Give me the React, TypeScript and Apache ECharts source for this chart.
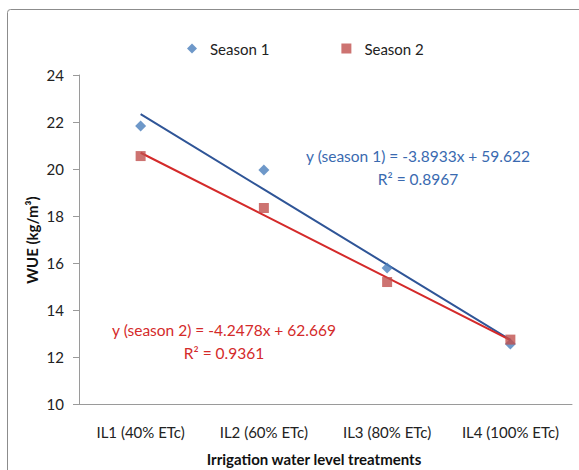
import React, { useEffect, useRef } from "react";
import * as echarts from "echarts";

const categories = ["IL1 (40% ETc)", "IL2 (60% ETc)", "IL3 (80% ETc)", "IL4 (100% ETc)"];
const season1 = [21.83, 19.96, 15.79, 12.55];
const season2 = [20.55, 18.34, 15.19, 12.74];
const yTicks = { min: 10, max: 24, interval: 2 };
const eq1 = ["y (season 1) = -3.8933x + 59.622", "R² = 0.8967"];
const eq2 = ["y (season 2) = -4.2478x + 62.669", "R² = 0.9361"];

function fit(vals: number[]): number[] {
  const n = vals.length;
  const xs = vals.map((_, i) => i + 1);
  const mx = xs.reduce((a, b) => a + b, 0) / n;
  const my = vals.reduce((a, b) => a + b, 0) / n;
  let sxy = 0, sxx = 0;
  for (let i = 0; i < n; i++) {
    sxy += (xs[i] - mx) * (vals[i] - my);
    sxx += (xs[i] - mx) * (xs[i] - mx);
  }
  const b = sxy / sxx;
  const a = my - b * mx;
  return xs.map((x) => a + b * x);
}

const FONT = "Lato, 'Open Sans', sans-serif";

export default function App() {
  const ref = useRef<HTMLDivElement>(null);
  useEffect(() => {
    if (!ref.current) return;
    const chart = echarts.init(ref.current, null, { renderer: "svg" });
    chart.setOption({
      animation: false,
      backgroundColor: "#ffffff",
      textStyle: { fontFamily: FONT },
      grid: { left: 79, right: 7, top: 75, bottom: 66 },
      legend: {
        left: 182,
        top: 36,
        itemWidth: 10,
        itemHeight: 10,
        itemGap: 72,
        textStyle: { fontSize: 15, color: "#222", fontFamily: FONT, padding: [0, 0, 0, 8] },
        data: [
          { name: "Season 1", icon: "diamond" },
          { name: "Season 2", icon: "rect" },
        ],
      },
      xAxis: {
        type: "category",
        data: categories,
        boundaryGap: true,
        axisLine: { lineStyle: { color: "#9a9a9a", width: 1 } },
        axisTick: { alignWithLabel: true, length: 6, lineStyle: { color: "#9a9a9a" } },
        axisLabel: { color: "#222", fontSize: 15, margin: 20, interval: 0, hideOverlap: false, fontFamily: FONT },
      },
      yAxis: {
        type: "value",
        min: yTicks.min,
        max: yTicks.max,
        interval: yTicks.interval,
        splitLine: { show: false },
        axisLine: { show: true, lineStyle: { color: "#9a9a9a", width: 1 } },
        axisTick: { show: true, length: 6, lineStyle: { color: "#9a9a9a" } },
        axisLabel: { color: "#222", fontSize: 15, margin: 15, fontFamily: FONT },
      },
      series: [
        {
          name: "trend1",
          type: "line",
          data: fit(season1),
          symbol: "none",
          lineStyle: { color: "#2f5597", width: 2 },
          z: 2,
        },
        {
          name: "trend2",
          type: "line",
          data: fit(season2),
          symbol: "none",
          lineStyle: { color: "#d42a2a", width: 2 },
          z: 2,
        },
        {
          name: "Season 1",
          type: "scatter",
          data: season1,
          symbol: "diamond",
          symbolSize: 11,
          itemStyle: { color: "#4a7ebb" },
          z: 3,
        },
        {
          name: "Season 2",
          type: "scatter",
          data: season2,
          symbol: "rect",
          symbolSize: 10,
          itemStyle: { color: "#c0504d" },
          z: 4,
        },
      ],
      graphic: [
        {
          type: "rect",
          shape: { x: 7.5, y: 9.5, width: 600, height: 500, r: 3 },
          style: { fill: "none", stroke: "#8c8c8c", lineWidth: 1 },
          silent: true,
        },
        {
          type: "text",
          x: 32,
          y: 240,
          rotation: Math.PI / 2,
          style: {
            text: "WUE (kg/m³)",
            fontSize: 15,
            fontWeight: "bold",
            fill: "#111",
            fontFamily: FONT,
            align: "center",
            verticalAlign: "middle",
          },
        },
        {
          type: "text",
          x: 314,
          y: 459,
          style: {
            text: "Irrigation water level treatments",
            fontSize: 15,
            fontWeight: "bold",
            fill: "#111",
            fontFamily: FONT,
            align: "center",
            verticalAlign: "middle",
          },
        },
        {
          type: "text",
          x: 418,
          y: 156,
          style: { text: eq1[0], fontSize: 15.5, fill: "#3a6ab0", fontFamily: FONT, align: "center", verticalAlign: "middle" },
        },
        {
          type: "text",
          x: 418,
          y: 179,
          style: { text: eq1[1], fontSize: 15.5, fill: "#3a6ab0", fontFamily: FONT, align: "center", verticalAlign: "middle" },
        },
        {
          type: "text",
          x: 224,
          y: 330,
          style: { text: eq2[0], fontSize: 15.5, fill: "#d42a2a", fontFamily: FONT, align: "center", verticalAlign: "middle" },
        },
        {
          type: "text",
          x: 224,
          y: 353,
          style: { text: eq2[1], fontSize: 15.5, fill: "#d42a2a", fontFamily: FONT, align: "center", verticalAlign: "middle" },
        },
      ],
    });
    return () => chart.dispose();
  }, []);
  return <div ref={ref} style={{ width: 579, height: 470, position: "absolute", left: 0, top: 0 }} />;
}
